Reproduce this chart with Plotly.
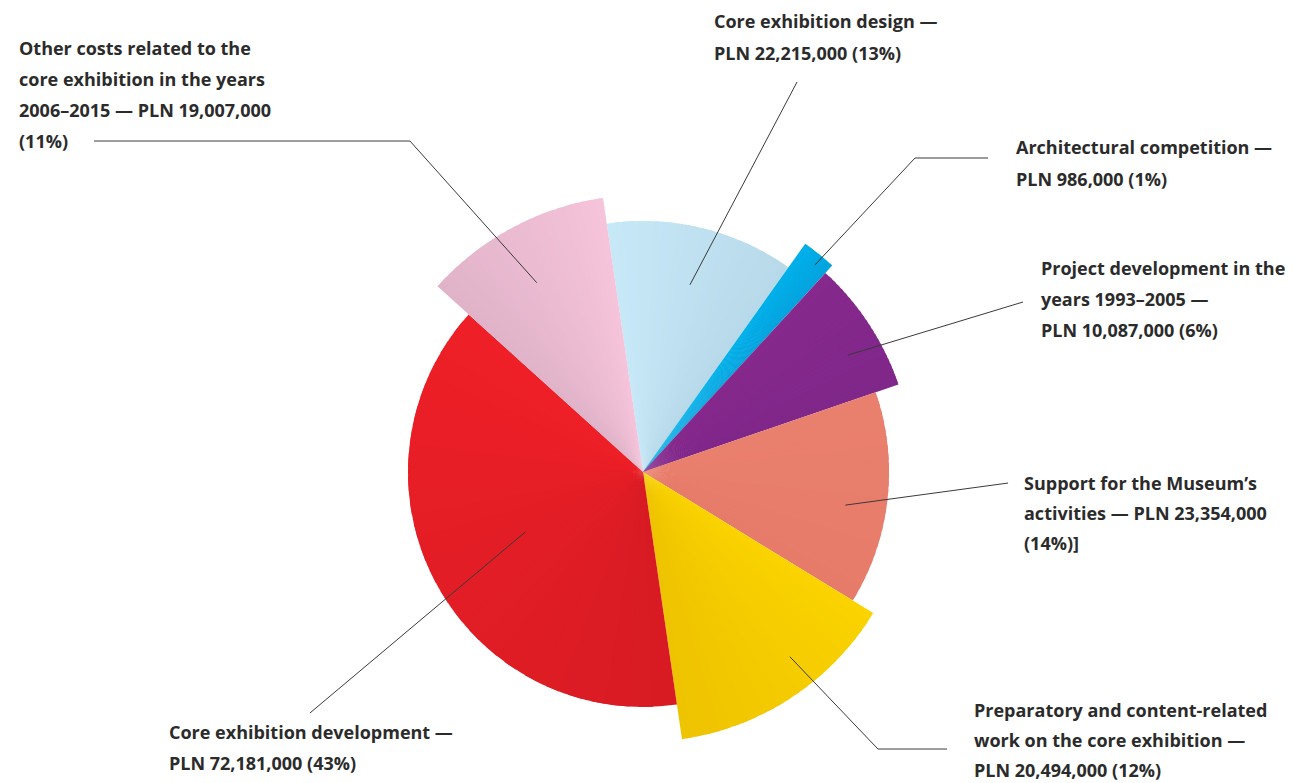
import math
import plotly.graph_objects as go

# ---------------- data ----------------
categories = [
    "Core exhibition design",
    "Architectural competition",
    "Project development in the years 1993–2005",
    "Support for the Museum’s activities",
    "Preparatory and content-related work on the core exhibition",
    "Core exhibition development",
    "Other costs related to the core exhibition in the years 2006–2015",
]
values_pln = [22215000, 986000, 10087000, 23354000, 20494000, 72181000, 19007000]
pct_labels = ["13%", "1%", "6%", "14%", "12%", "43%", "11%"]

label_lines = [
    ["Core exhibition design —", "PLN 22,215,000 (13%)"],
    ["Architectural competition —", "PLN 986,000 (1%)"],
    ["Project development in the", "years 1993–2005 —", "PLN 10,087,000 (6%)"],
    ["Support for the Museum’s", "activities — PLN 23,354,000", "(14%)]"],
    ["Preparatory and content-related", "work on the core exhibition —", "PLN 20,494,000 (12%)"],
    ["Core exhibition development —", "PLN 72,181,000 (43%)"],
    ["Other costs related to the", "core exhibition in the years", "2006–2015 — PLN 19,007,000", "(11%)"],
]

# ---------------- layout / style ----------------
W, H = 1309, 783
CX, CY = 643, 472          # pie centre in pixels
RMAX = 300                 # radial range (1 unit = 1 px)

start_angle = -8.3
slice_span = [43.7, 7.1, 28.6, 50.4, 50.2, 140.4, 39.6]
slice_radius = [251, 280, 270, 246, 270, 235, 277]
color_from = ["#c6e8f7", "#00b0ea", "#86288c", "#e9806d", "#fad300", "#d81b23", "#e0b3c9"]
color_to   = ["#b8d9e9", "#04a3de", "#80278a", "#e77b6a", "#eec300", "#ee1f27", "#f5c3da"]

n_strips = 24


def hex2rgb(h):
    h = h.lstrip("#")
    return tuple(int(h[i:i + 2], 16) for i in (0, 2, 4))


def mix(c1, c2, t):
    a, b = hex2rgb(c1), hex2rgb(c2)
    return "rgb(%d,%d,%d)" % tuple(round(a[i] + (b[i] - a[i]) * t) for i in range(3))


thetas, widths, rs, cols = [], [], [], []
acc = start_angle
for i, v in enumerate(values_pln):
    span = slice_span[i]
    sw = span / n_strips
    for k in range(n_strips):
        # strips overlap slightly (except the last) to hide anti-aliasing seams
        w = sw if k == n_strips - 1 else sw * 1.6
        thetas.append(acc + sw * k + w / 2)
        widths.append(w)
        rs.append(slice_radius[i])
        cols.append(mix(color_from[i], color_to[i], (k + 0.5) / n_strips))
    acc += span

fig = go.Figure()
fig.add_trace(go.Barpolar(
    r=rs, theta=thetas, width=widths,
    marker=dict(color=cols, line=dict(width=0)),
    hoverinfo="skip", showlegend=False,
))

fig.update_layout(
    width=W, height=H,
    margin=dict(l=0, r=0, t=0, b=0),
    paper_bgcolor="white", plot_bgcolor="white",
    showlegend=False,
    polar=dict(
        domain=dict(x=[(CX - RMAX) / W, (CX + RMAX) / W],
                    y=[1 - (CY + RMAX) / H, 1 - (CY - RMAX) / H]),
        bgcolor="rgba(0,0,0,0)",
        radialaxis=dict(range=[0, RMAX], visible=False, showgrid=False),
        angularaxis=dict(rotation=90, direction="clockwise", visible=False,
                         showgrid=False, showline=False),
        bargap=0,
    ),
)


def px2paper(x, y):
    return x / W, 1 - y / H


def polar_px(theta, r):
    t = math.radians(theta)
    return CX + r * math.sin(t), CY - r * math.cos(t)


# leader-line anchors inside slices (angle, radius) and outer path points (px)
anchor_polar = [(14.1, 193), (39.7, 269), (60.3, 236), (99.3, 205), (141.5, 236), (243.0, 132), (330.7, 217)]
leader_paths = [
    [(797, 82)],
    [(915, 158), (988, 158)],
    [(1023, 302)],
    [(1008, 483)],
    [(878, 749), (947, 749)],
    [(310, 713)],
    [(410, 141), (94, 141)],
]
for i in range(len(categories)):
    pts = [polar_px(*anchor_polar[i])] + leader_paths[i]
    path = "M " + " L ".join("%.4f,%.4f" % px2paper(x, y) for x, y in pts)
    fig.add_shape(type="path", path=path, xref="paper", yref="paper",
                  line=dict(color="#3a3a3a", width=1))

# label text positions (left x, first line centre y, line step) in px
label_pos = [(713, 21, 32), (1015, 147, 32), (1040, 268, 31), (1023, 483, 30),
             (973, 710, 30), (168, 732, 31), (18, 48, 31)]
for i, lines in enumerate(label_lines):
    x0, y0, step = label_pos[i]
    for j, line in enumerate(lines):
        xp, yp = px2paper(x0, y0 + j * step)
        fig.add_annotation(x=xp, y=yp, xref="paper", yref="paper",
                           text=line, showarrow=False, xanchor="left", yanchor="middle",
                           borderpad=0,
                           font=dict(family="Open Sans", size=18, color="#2b2b2b", weight=700))

fig.write_html("out.html")
